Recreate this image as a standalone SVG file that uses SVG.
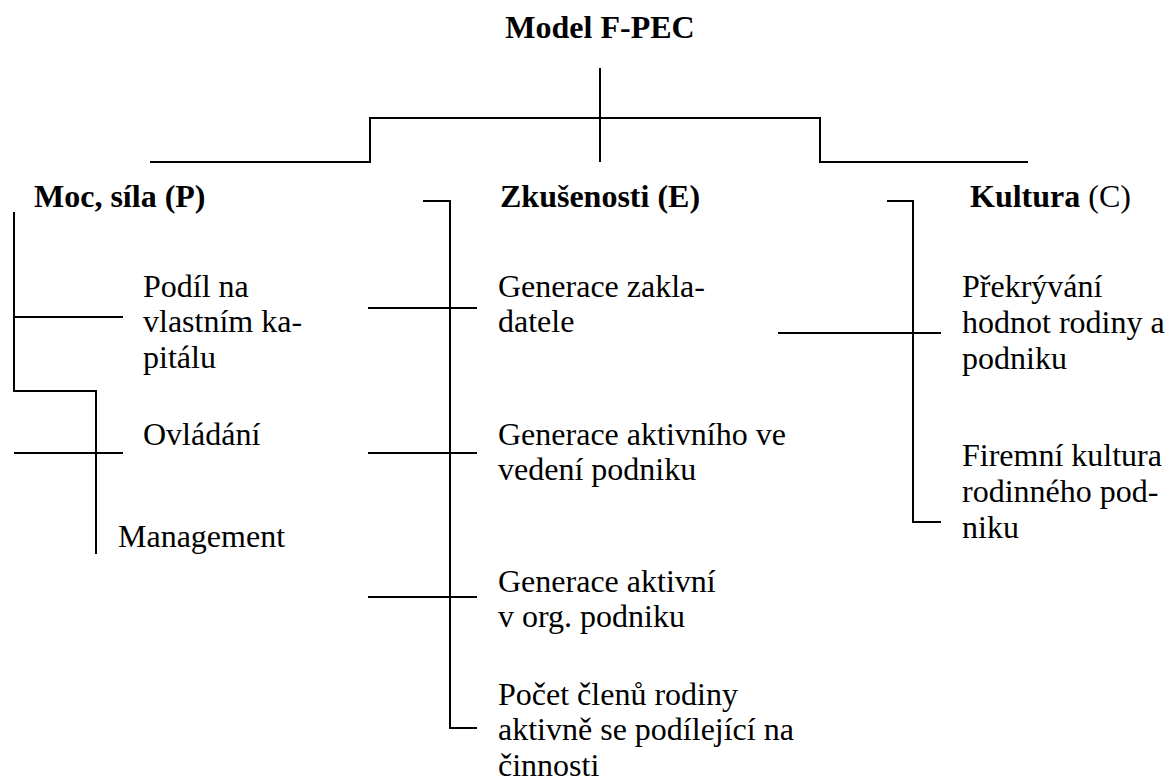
<svg xmlns="http://www.w3.org/2000/svg" width="1166" height="782" viewBox="0 0 1166 782" font-family="'Liberation Serif', 'Times New Roman', serif">
<style>
text{font-family:'Liberation Serif','Times New Roman',serif;font-size:32px;fill:#000}
.b{font-weight:bold}
.ln{fill:none;stroke:#000;stroke-width:2}
</style>
<rect width="1166" height="782" fill="#fff"/>
<g id="connectors">
<path class="ln" d="M600 68V162M150 162H370V118H820V162H1028"/>
<path class="ln" d="M14 212V391H96V554M14 317H123M14 453H123"/>
<path class="ln" d="M423 201H450V728H477M368 308H477M368 453H477M368 597H477"/>
<path class="ln" d="M887 201H913V522H941M778 333H941"/>
</g>
<g id="root"><text class="b" x="600" y="38" text-anchor="middle" font-size="31">Model F-PEC</text></g>
<g id="p"><text class="b" x="34" y="207">Moc, síla (P)</text></g>
<g id="e"><text class="b" x="500" y="207">Zkušenosti (E)</text></g>
<g id="c"><text x="970" y="207"><tspan class="b">Kultura</tspan> (C)</text></g>
<g id="p1"><text x="143" y="297">Podíl na</text><text x="143" y="332">vlastním ka-</text><text x="143" y="368">pitálu</text></g>
<g id="p2"><text x="143" y="445">Ovládání</text></g>
<g id="p3"><text x="118" y="547">Management</text></g>
<g id="e1"><text x="498" y="297">Generace zakla-</text><text x="498" y="332">datele</text></g>
<g id="e2"><text x="498" y="445">Generace aktivního ve</text><text x="498" y="480">vedení podniku</text></g>
<g id="e3"><text x="498" y="592">Generace aktivní</text><text x="498" y="627">v org. podniku</text></g>
<g id="e4"><text x="498" y="705">Počet členů rodiny</text><text x="498" y="740">aktivně se podílející na</text><text x="498" y="776">činnosti</text></g>
<g id="c1"><text x="962" y="297">Překrývání</text><text x="962" y="333">hodnot rodiny a</text><text x="962" y="369">podniku</text></g>
<g id="c2"><text x="962" y="466">Firemní kultura</text><text x="962" y="502">rodinného pod-</text><text x="962" y="538">niku</text></g>
</svg>
